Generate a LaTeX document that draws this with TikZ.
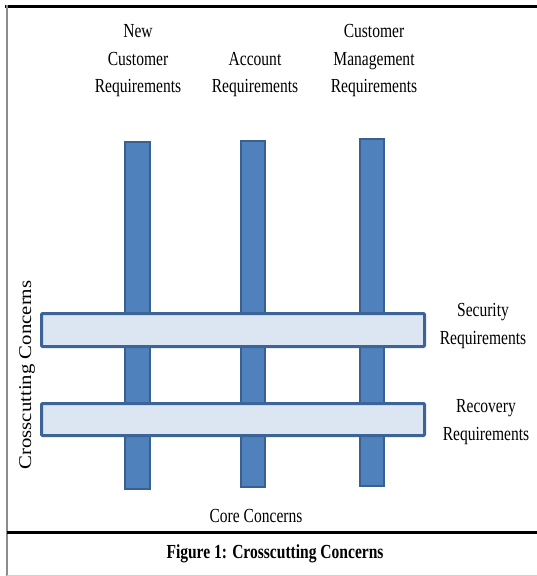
\documentclass[tikz,border=0pt]{standalone}
\usepackage{fontspec}
\setmainfont{Liberation Serif}
\usepackage{graphicx}
\definecolor{corefill}{HTML}{4F81BD}
\definecolor{coreedge}{HTML}{3A6090}
\definecolor{crossfill}{HTML}{DCE6F2}
\definecolor{crossedge}{HTML}{3D6497}
\definecolor{frameleft}{HTML}{8C8C8C}
\definecolor{framebottom}{HTML}{D0D0D0}
\newcommand\sqz[1]{\scalebox{0.78}[1]{#1}}
\begin{document}
\begin{tikzpicture}[x=1bp,y=-1bp,
  corebar/.style={fill=corefill, draw=coreedge, line width=2bp},
  crossbar/.style={fill=crossfill, draw=crossedge, line width=3bp, rounded corners=1bp},
  lbl/.style={font=\fontsize{20}{28}\selectfont, align=center, inner sep=0pt, anchor=base},
  figlbl/.style={font=\fontsize{20}{28}\selectfont\bfseries, inner sep=0pt, anchor=base}]
\useasboundingbox (0,0) rectangle (537,576);
% frame
\coordinate (tl) at (5,6.5);
\coordinate (tr) at (537,6.5);
\coordinate (lt) at (7,5);
\coordinate (lb) at (7,576);
\coordinate (sl) at (7,532);
\coordinate (sr) at (537,532);
\coordinate (bl) at (7,575.5);
\coordinate (br) at (537,575.5);
\draw[line width=2.5bp, black] (tl) -- (tr);
\draw[line width=2.5bp, frameleft] (lt) -- (lb);
\draw[line width=3bp, black] (sl) -- (sr);
\draw[line width=1bp, framebottom] (bl) -- (br);
% core concern bars
\draw[corebar] (125,142) rectangle (150,489);
\draw[corebar] (241,141) rectangle (265,487);
\draw[corebar] (360,139) rectangle (384,486);
% crosscutting bars
\draw[crossbar] (41.5,313.5) rectangle (424.5,346.5);
\draw[crossbar] (41.5,403.5) rectangle (424.5,435.5);
% labels (anchor = baseline of last line)
\node[lbl] (newcust) at (138,93) {\sqz{New}\\\sqz{Customer}\\\sqz{Requirements}};
\node[lbl] (account) at (255,93) {\sqz{Account}\\\sqz{Requirements}};
\node[lbl] (custman) at (374,93) {\sqz{Customer}\\\sqz{Management}\\\sqz{Requirements}};
\node[lbl] (security) at (483,344) {\sqz{Security}\\\sqz{Requirements}};
\node[lbl] (recovery) at (486,440) {\sqz{Recovery}\\\sqz{Requirements}};
\node[lbl] (core) at (256,522) {\sqz{Core Concerns}};
\node[font=\fontsize{18}{20}\selectfont, inner sep=0pt, anchor=base, rotate=90] (cross) at (31,375) {\scalebox{1.16}[1]{Crosscutting Concerns}};
\node[figlbl] (fig) at (275,558) {\sqz{Figure 1: Crosscutting Concerns}};
\end{tikzpicture}
\end{document}
